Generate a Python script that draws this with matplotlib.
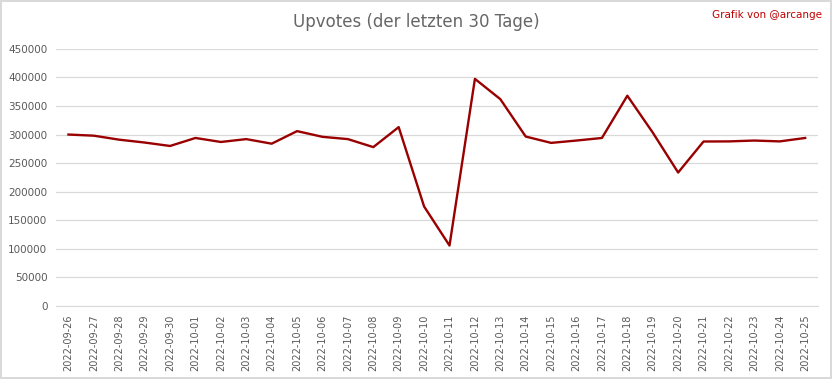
import matplotlib.pyplot as plt

tage = ['2022-09-26', '2022-09-27', '2022-09-28', '2022-09-29', '2022-09-30',
        '2022-10-01', '2022-10-02', '2022-10-03', '2022-10-04', '2022-10-05',
        '2022-10-06', '2022-10-07', '2022-10-08', '2022-10-09', '2022-10-10',
        '2022-10-11', '2022-10-12', '2022-10-13', '2022-10-14', '2022-10-15',
        '2022-10-16', '2022-10-17', '2022-10-18', '2022-10-19', '2022-10-20',
        '2022-10-21', '2022-10-22', '2022-10-23', '2022-10-24', '2022-10-25']
upvotes = [300000, 298000, 291000, 286000, 280000,
           294000, 287000, 292000, 284000, 306000,
           296000, 292000, 278000, 313000, 174000,
           105600, 397500, 362000, 296500, 285400,
           289500, 294000, 368000, 303500, 233500,
           287800, 288000, 289500, 288000, 294000]
y_ticks = list(range(0, 450001, 50000))

grau = '#595959'

fig = plt.figure(figsize=(8.32, 3.79), dpi=100, edgecolor='#d9d9d9', linewidth=1.5)
ax = fig.add_axes([0.067, 0.193, 0.916, 0.678])

x = list(range(len(tage)))
ax.plot(x, upvotes, color='#990000', linewidth=1.7)

ax.set_xlim(-0.5, len(tage) - 0.5)
ax.set_ylim(0, 450000)
ax.set_yticks(y_ticks)
ax.set_yticklabels([str(v) for v in y_ticks], fontsize=7.5, color=grau)
ax.set_xticks(x)
ax.set_xticklabels(tage, rotation=90, fontsize=7, color=grau)
ax.tick_params(axis='both', length=0, pad=6)
ax.grid(axis='y', color='#d9d9d9', linewidth=0.9)
ax.set_axisbelow(True)
for s in ['top', 'right', 'left']:
    ax.spines[s].set_visible(False)
ax.spines['bottom'].set_color('#d9d9d9')

fig.text(0.5, 0.943, 'Upvotes (der letzten 30 Tage)', ha='center', va='center',
         fontsize=12, color='#666666')
fig.text(0.988, 0.96, 'Grafik von @arcange', ha='right', va='center',
         fontsize=7.5, color='#c00000')

fig.savefig('out.png', dpi=100)
